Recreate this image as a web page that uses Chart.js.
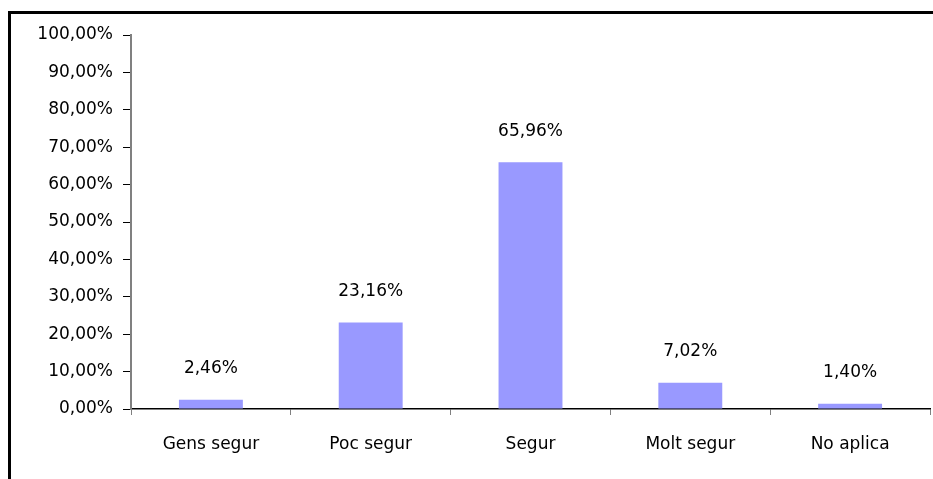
<!DOCTYPE html>
<html lang="ca">
<head>
<meta charset="UTF-8">
<title>Grafic</title>
<style>
  html, body { margin: 0; padding: 0; background: #fff; }
  div { width: 933px; height: 479px; position: relative; }
</style>
</head>
<body>
<div>
  <canvas id="grafic1" width="933" height="479"></canvas>
</div>
<script src="https://cdn.jsdelivr.net/npm/chart.js"></script>
<script>
  // dades llegides del grafic
  const categories = ["Gens segur", "Poc segur", "Segur", "Molt segur", "No aplica"];
  const valors = [2.46, 23.16, 65.96, 7.02, 1.40];
  const ticksY = [0, 10, 20, 30, 40, 50, 60, 70, 80, 90, 100];

  const fmt = v => v.toFixed(2).replace('.', ',') + '%';
  const FONT = "'DejaVu Sans', sans-serif";

  // marc negre al voltant
  const marc = {
    id: 'marc',
    afterDraw(chart) {
      const c = chart.ctx;
      c.save();
      c.strokeStyle = '#000';
      c.lineWidth = 3;
      c.beginPath();
      c.moveTo(9.5, 479);
      c.lineTo(9.5, 12.5);
      c.lineTo(933, 12.5);
      c.stroke();
      c.restore();
    }
  };

  // etiquetes de valor sobre les barres
  const etiquetes = {
    id: 'etiquetes',
    afterDatasetsDraw(chart) {
      const c = chart.ctx;
      const meta = chart.getDatasetMeta(0);
      c.save();
      c.font = '17px ' + FONT;
      c.fillStyle = '#000';
      c.textAlign = 'center';
      c.textBaseline = 'middle';
      meta.data.forEach((bar, i) => {
        c.fillText(fmt(valors[i]), bar.x, bar.y - 31);
      });
      c.restore();
    }
  };

  const ctx = document.getElementById('grafic1');
  new Chart(ctx, {
    type: 'bar',
    data: {
      labels: categories,
      datasets: [{
        data: valors,
        backgroundColor: '#9999FF',
        borderWidth: 0,
        barPercentage: 0.4,
        categoryPercentage: 1
      }]
    },
    options: {
      responsive: false,
      animation: false,
      layout: { padding: { left: 12, top: 35, right: 3, bottom: 0 } },
      plugins: { legend: { display: false }, tooltip: { enabled: false } },
      scales: {
        x: {
          offset: true,
          afterFit: s => { s.height = 70; },
          grid: {
            offset: true,
            drawOnChartArea: false,
            color: '#808080',
            tickLength: 6
          },
          border: { color: '#000', width: 1.5 },
          ticks: {
            color: '#000',
            font: { family: FONT, size: 17 },
            padding: 19
          }
        },
        y: {
          min: 0,
          max: 100,
          afterFit: s => { s.width = 119; },
          afterBuildTicks: s => { s.ticks = ticksY.map(v => ({ value: v })); },
          grid: {
            drawOnChartArea: false,
            color: '#000',
            tickLength: 8
          },
          border: { color: '#808080', width: 2 },
          ticks: {
            color: '#000',
            font: { family: FONT, size: 17 },
            padding: 10,
            callback: v => fmt(v)
          }
        }
      }
    },
    plugins: [marc, etiquetes]
  });
</script>
</body>
</html>
